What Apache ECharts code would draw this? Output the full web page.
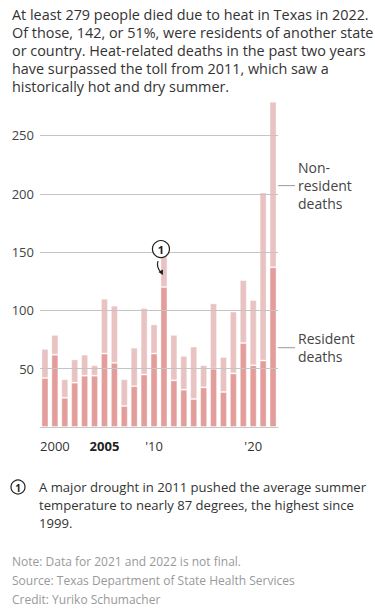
<!DOCTYPE html>
<html>
<head>
<meta charset="utf-8">
<script src="https://cdn.jsdelivr.net/npm/echarts@6/dist/echarts.min.js"></script>
<style>
  html, body { margin: 0; padding: 0; background: #fff; }
  #ct1 { width: 375px; height: 616px; }
</style>
</head>
<body>
<div id="ct1"></div>
<script>
var years = ['1999', '2000', '2001', '2002', '2003', '2004', '2005', '2006', '2007', '2008', '2009', '2010',
    '2011', '2012', '2013', '2014', '2015', '2016', '2017', '2018', '2019', '2020', '2021', '2022'];
var residentDeaths = [42, 62, 25, 38, 44, 44, 63, 55, 18, 35, 45, 63,
    120, 40, 32, 24, 34, 50, 30, 46, 72, 53, 57, 137];
var totalDeaths = [67, 79, 41, 58, 62, 53, 110, 104, 41, 68, 102, 88,
    151, 79, 61, 69, 53, 106, 60, 99, 126, 109, 201, 279];
var nonResidentDeaths = totalDeaths.map(function (t, i) { return t - residentDeaths[i]; });
var yTicks = [50, 100, 150, 200, 250];
var xLabelYears = ['2000', '2005', '2010', '2020'];
var xTickYears = ['2000', '2010', '2020'];

var FONT = '"Open Sans", sans-serif';
var myChart1 = null;

var option1 = {
    animation: false,
    grid: { left: 40, right: 97, top: 100.5, bottom: 189 },
    xAxis: {
        type: 'category',
        data: years,
        axisLine: { lineStyle: { color: '#c8c8c8', width: 1 } },
        axisTick: {
            length: 5,
            alignWithLabel: true,
            lineStyle: { color: '#c8c8c8' },
            interval: function (i, v) { return xTickYears.indexOf(v) >= 0; }
        },
        axisLabel: {
            interval: function (i, v) { return xLabelYears.indexOf(v) >= 0; },
            margin: 12,
            fontFamily: FONT,
            fontSize: 13,
            color: '#333',
            formatter: function (v) {
                if (v === '2005') return '{b|2005}';
                if (v === '2000') return v;
                return "'" + v.slice(2);
            },
            rich: { b: { fontFamily: FONT, fontSize: 13, fontWeight: 'bold', color: '#222' } }
        }
    },
    yAxis: {
        type: 'value',
        min: 0,
        max: 280,
        splitLine: { show: false },
        axisLine: { show: false },
        axisTick: { show: false },
        axisLabel: {
            customValues: yTicks,
            margin: 6,
            fontFamily: FONT,
            fontSize: 13,
            color: '#444'
        }
    },
    series: [
        {
            name: 'Resident deaths',
            type: 'bar',
            stack: 'deaths',
            data: residentDeaths,
            barWidth: 7,
            itemStyle: { color: '#e39e9b', borderColor: 'rgba(255,255,255,0.35)', borderWidth: 1 },
            markLine: {
                silent: true,
                symbol: 'none',
                label: { show: false },
                lineStyle: { color: '#c4c4c4', width: 1, type: 'solid' },
                data: yTicks.map(function (v) { return { yAxis: v }; }),
                z: 10
            }
        },
        {
            name: 'Non-resident deaths',
            type: 'bar',
            stack: 'deaths',
            data: nonResidentDeaths,
            barWidth: 7,
            itemStyle: { color: '#e8c3c2', borderColor: 'rgba(255,255,255,0.35)', borderWidth: 1 }
        }
    ]
};

function buildGraphics() {
    var right = myChart1.convertToPixel({ gridIndex: 0 }, ['2022', 0])[0] + 5;
    var nonY = myChart1.convertToPixel({ gridIndex: 0 }, ['2022', 207])[1];
    var resY = myChart1.convertToPixel({ gridIndex: 0 }, ['2022', 68])[1];
    var c = myChart1.convertToPixel({ gridIndex: 0 }, ['2011', 153]);
    var cx = c[0] - 3, cy = c[1] + 0.5;

    var g = [
        {
            type: 'text', left: 12, top: 5,
            style: {
                text: 'At least 279 people died due to heat in Texas in 2022.\n' +
                    'Of those, 142, or 51%, were residents of another state\n' +
                    'or country. Heat-related deaths in the past two years\n' +
                    'have surpassed the toll from 2011, which saw a\n' +
                    'historically hot and dry summer.',
                font: '14.4px ' + FONT, fill: '#333', lineHeight: 18
            }
        },
        // leader lines + labels
        { type: 'line', shape: { x1: right, y1: nonY, x2: right + 17, y2: nonY }, style: { stroke: '#999', lineWidth: 1 } },
        { type: 'line', shape: { x1: right, y1: resY, x2: right + 17, y2: resY }, style: { stroke: '#999', lineWidth: 1 } },
        {
            type: 'text', x: right + 20, y: nonY - 27,
            style: { text: 'Non-\nresident\ndeaths', font: '14px ' + FONT, fill: '#444', lineHeight: 18 }
        },
        {
            type: 'text', x: right + 20, y: resY - 18,
            style: { text: 'Resident\ndeaths', font: '14px ' + FONT, fill: '#444', lineHeight: 18 }
        },
        // annotation marker on 2011
        {
            type: 'circle', shape: { cx: cx, cy: cy, r: 8.5 }, z: 100,
            style: { fill: '#fff', stroke: '#222', lineWidth: 1.2 }
        },
        {
            type: 'text', x: cx, y: cy, z: 101,
            style: { text: '1', font: 'bold 11px ' + FONT, fill: '#222', align: 'center', verticalAlign: 'middle' }
        },
        {
            type: 'bezierCurve', z: 100,
            shape: { x1: cx - 3, y1: cy + 12, cpx1: cx - 5, cpy1: cy + 18, x2: cx + 0.5, y2: cy + 24 },
            style: { stroke: '#222', lineWidth: 1.2, fill: null }
        },
        {
            type: 'polygon', z: 100,
            shape: { points: [[cx + 2, cy + 26], [cx - 2.5, cy + 23], [cx + 2, cy + 20.5]] },
            style: { fill: '#222' }
        },
        // note below chart
        {
            type: 'circle', shape: { cx: 18, cy: 487, r: 7 },
            style: { fill: '#fff', stroke: '#222', lineWidth: 1.2 }
        },
        {
            type: 'text', x: 18, y: 487.5,
            style: { text: '1', font: 'bold 10px ' + FONT, fill: '#222', align: 'center', verticalAlign: 'middle' }
        },
        {
            type: 'text', left: 39, top: 478,
            style: {
                text: 'A major drought in 2011 pushed the average summer\n' +
                    'temperature to nearly 87 degrees, the highest since\n1999.',
                font: '13.1px ' + FONT, fill: '#333', lineHeight: 18
            }
        },
        {
            type: 'text', left: 12, top: 552,
            style: {
                text: 'Note: Data for 2021 and 2022 is not final.\n' +
                    'Source: Texas Department of State Health Services\n' +
                    'Credit: Yuriko Schumacher',
                font: '12px ' + FONT, fill: '#999', lineHeight: 19
            }
        }
    ];
    myChart1.setOption({ graphic: g });
}

function initMyChar1() {
    if (myChart1 && myChart1.dispose) {
        myChart1.dispose();
    }
    myChart1 = echarts.init(document.getElementById('ct1'), null, { renderer: 'svg' });
    window.onresize = myChart1.resize;
    myChart1.setOption(option1, true);
    buildGraphics();
}

initMyChar1();
</script>
</body>
</html>
